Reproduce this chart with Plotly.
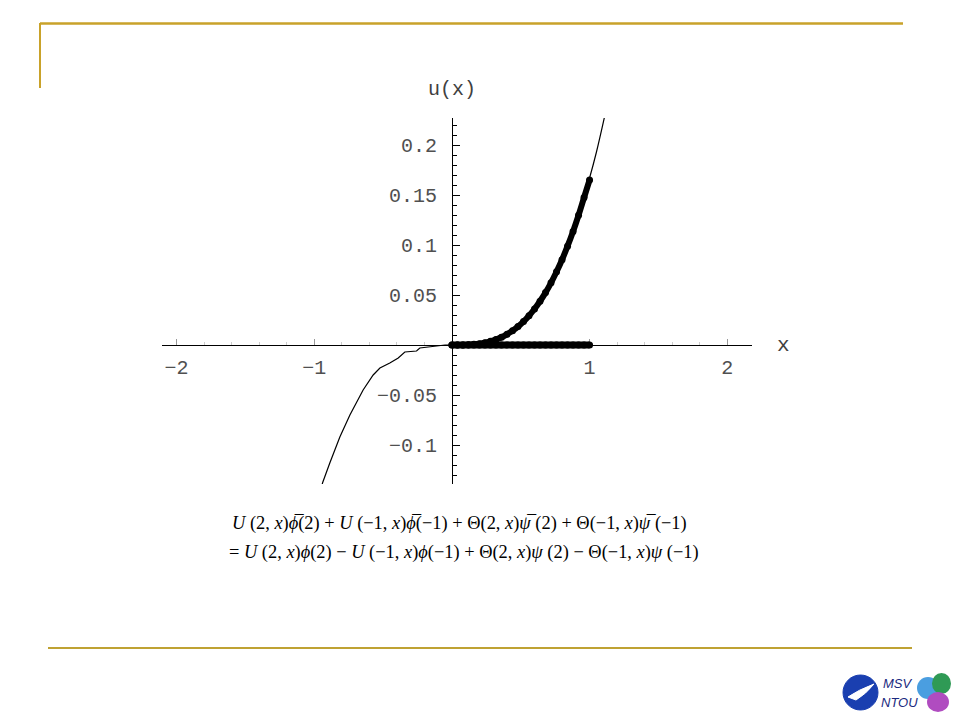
import plotly.graph_objects as go

# ---------------- data ----------------
neg_x = [-0.95, -0.94, -0.887, -0.814, -0.741, -0.645, -0.572, -0.523, -0.451, -0.39,
         -0.342, -0.257, -0.233, -0.184, -0.136, -0.1, -0.05, 0.0]
neg_y = [-0.145, -0.138, -0.118, -0.092, -0.070, -0.045, -0.030, -0.023, -0.018, -0.013,
         -0.007, -0.006, -0.003, -0.002, -0.001, -0.0005, 0.0, 0.0]

pos_x = [0.0, 0.1, 0.2, 0.3, 0.4, 0.5, 0.6, 0.7, 0.8, 0.9, 1.0, 1.05, 1.11]
pos_y = [0.0, 0.0002, 0.0014, 0.0046, 0.0107, 0.0209, 0.036, 0.057, 0.085, 0.121, 0.167,
         0.193, 0.229]

dot_x = [0.0, 0.04, 0.08, 0.12, 0.16, 0.2, 0.24, 0.28, 0.32, 0.36, 0.4, 0.44, 0.48,
         0.52, 0.56, 0.6, 0.64, 0.68, 0.72, 0.76, 0.8, 0.84, 0.88, 0.92, 0.96, 1.0]
dot_y = [0.0, 0.0, 0.0001, 0.0003, 0.0007, 0.0013, 0.0023, 0.0037, 0.0055, 0.0078,
         0.0107, 0.0142, 0.0184, 0.0234, 0.0293, 0.036, 0.0437, 0.0524, 0.0622, 0.0732,
         0.0853, 0.0988, 0.1136, 0.1298, 0.1475, 0.1650]
bnd_y = [0.0] * len(dot_x)

x_tickvals = [-2, -1, 1, 2]
x_ticktext = ["\u22122", "\u22121", "1", "2"]
y_tickvals = [-0.1, -0.05, 0.05, 0.1, 0.15, 0.2]
y_ticktext = ["\u22120.1", "\u22120.05", "0.05", "0.1", "0.15", "0.2"]

X_RANGE = [-2.106, 2.18]
Y_RANGE = [-0.139, 0.227]

eq_line1 = ("<i>U</i> (2, <i>x</i>)<i>\u03d5\u0305</i>(2) + <i>U</i> (\u22121, <i>x</i>)<i>\u03d5\u0305</i>(\u22121)"
            " + \u0398(2, <i>x</i>)<i>\u03c8\u0305</i> (2) + \u0398(\u22121, <i>x</i>)<i>\u03c8\u0305</i> (\u22121)")
eq_line2 = ("= <i>U</i> (2, <i>x</i>)<i>\u03d5</i>(2) \u2212 <i>U</i> (\u22121, <i>x</i>)<i>\u03d5</i>(\u22121)"
            " + \u0398(2, <i>x</i>)<i>\u03c8</i> (2) \u2212 \u0398(\u22121, <i>x</i>)<i>\u03c8</i> (\u22121)")

# ---------------- figure ----------------
OFF = 8  # page body margin
W, H = 960 - 2 * OFF, 720 - 2 * OFF
L, R, T, B = 162, 752, 118, 484  # plot area in screen pixels

fig = go.Figure()
fig.add_trace(go.Scatter(x=neg_x, y=neg_y, mode="lines",
                         line=dict(color="black", width=1.2)))
fig.add_trace(go.Scatter(x=pos_x, y=pos_y, mode="lines", line_shape="spline",
                         line=dict(color="black", width=1.2)))
fig.add_trace(go.Scatter(x=dot_x, y=bnd_y, mode="lines+markers",
                         line=dict(color="black", width=7),
                         marker=dict(color="black", size=7)))
fig.add_trace(go.Scatter(x=dot_x, y=dot_y, mode="lines+markers", line_shape="spline",
                         line=dict(color="black", width=6),
                         marker=dict(color="black", size=7)))

yzero = (0 - Y_RANGE[0]) / (Y_RANGE[1] - Y_RANGE[0])
xzero = (0 - X_RANGE[0]) / (X_RANGE[1] - X_RANGE[0])

tickfont = dict(family="Liberation Mono, Courier New, monospace", size=20, color="#505050")

fig.update_layout(
    width=W, height=H,
    margin=dict(l=L - OFF, r=W - (R - OFF), t=T - OFF, b=H - (B - OFF)),
    paper_bgcolor="white", plot_bgcolor="white",
    showlegend=False,
    xaxis=dict(range=X_RANGE, anchor="free", position=yzero, showgrid=False, zeroline=False,
               showline=True, linecolor="black", linewidth=1, layer="below traces",
               tickvals=x_tickvals, ticktext=x_ticktext, ticks="inside", ticklen=6,
               tickcolor="#999", tickfont=tickfont, ticklabelstandoff=4,
               minor=dict(dtick=0.2, tick0=0, ticks="inside", ticklen=3, tickcolor="#ccc")),
    yaxis=dict(range=Y_RANGE, anchor="free", position=xzero, showgrid=False, zeroline=False,
               showline=True, linecolor="black", linewidth=1, layer="below traces",
               tickvals=y_tickvals, ticktext=y_ticktext, ticks="inside", ticklen=7,
               tickcolor="black", tickfont=tickfont, ticklabelstandoff=11,
               minor=dict(dtick=0.01, tick0=0, ticks="inside", ticklen=4, tickcolor="black")),
)


def px(xp):
    return (xp - L) / (R - L)


def py(yp):
    return (B - yp) / (B - T)


gold = "#C9A22A"
shapes = [
    dict(type="line", xref="paper", yref="paper", x0=px(40), x1=px(903), y0=py(23.5), y1=py(23.5),
         line=dict(color=gold, width=2.5)),
    dict(type="line", xref="paper", yref="paper", x0=px(40), x1=px(40), y0=py(23), y1=py(88),
         line=dict(color=gold, width=2)),
    dict(type="line", xref="paper", yref="paper", x0=px(48), x1=px(912), y0=py(648), y1=py(648),
         line=dict(color="#BFA232", width=2)),
    # logo
    dict(type="circle", xref="paper", yref="paper", x0=px(843), x1=px(878), y0=py(675), y1=py(710),
         fillcolor="#1a3fb0", line=dict(color="#1a3fb0", width=1)),
    dict(type="circle", xref="paper", yref="paper", x0=px(917), x1=px(939), y0=py(677), y1=py(699),
         fillcolor="#4a9ee0", line=dict(width=0)),
    dict(type="circle", xref="paper", yref="paper", x0=px(932), x1=px(951), y0=py(673), y1=py(694),
         fillcolor="#2f9a55", line=dict(width=0)),
    dict(type="circle", xref="paper", yref="paper", x0=px(927), x1=px(949), y0=py(692), y1=py(712),
         fillcolor="#b04cc0", line=dict(width=0)),
    dict(type="path", xref="paper", yref="paper",
         path=(f"M {px(848)} {py(697)} Q {px(858)} {py(690)} {px(874)} {py(684)} "
               f"Q {px(866)} {py(694)} {px(856)} {py(700)} Z"),
         fillcolor="white", line=dict(color="white", width=1)),
]
fig.update_layout(shapes=shapes)

annotations = [
    dict(text="u(x)", x=px(452), y=py(89), xref="paper", yref="paper", showarrow=False,
         font=dict(family="Liberation Mono, Courier New, monospace", size=20, color="#404040"),
         xanchor="center", yanchor="middle"),
    dict(text="x", x=px(775), y=py(345), xref="paper", yref="paper", showarrow=False,
         font=dict(family="Liberation Mono, Courier New, monospace", size=21, color="#404040"),
         xanchor="left", yanchor="middle"),
    dict(text=eq_line1, x=px(230), y=py(523), xref="paper", yref="paper", showarrow=False,
         font=dict(family="Liberation Serif, Times New Roman, serif", size=18.4, color="black"),
         xanchor="left", yanchor="middle"),
    dict(text=eq_line2, x=px(227), y=py(552), xref="paper", yref="paper", showarrow=False,
         font=dict(family="Liberation Serif, Times New Roman, serif", size=18.4, color="black"),
         xanchor="left", yanchor="middle"),
    dict(text="<i>MSV</i>", x=px(881), y=py(683), xref="paper", yref="paper", showarrow=False,
         font=dict(family="Liberation Sans, Arial, sans-serif", size=13, color="#1a2a80"),
         xanchor="left", yanchor="middle"),
    dict(text="<i>NTOU</i>", x=px(879), y=py(702), xref="paper", yref="paper", showarrow=False,
         font=dict(family="Liberation Sans, Arial, sans-serif", size=13, color="#1a2a80"),
         xanchor="left", yanchor="middle"),
]
fig.update_layout(annotations=annotations)

fig.write_html("out.html")
